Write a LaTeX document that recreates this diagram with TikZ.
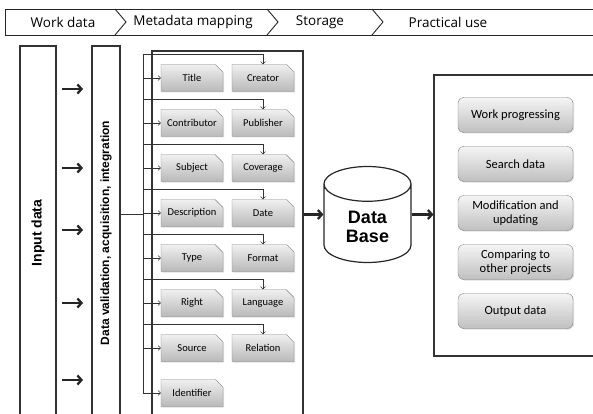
\documentclass[tikz,border=0pt]{standalone}
\usepackage{graphicx}
\usepackage{fontspec}
\setmainfont{Carlito}
\newfontfamily\headfont{Open Sans}
\newfontfamily\boldfont{Liberation Sans}
\usepackage{tikz}
\usetikzlibrary{shapes.geometric, shapes.misc, arrows.meta, positioning, shadows}

\begin{document}
\begin{tikzpicture}[x=10pt, y=-10pt,
    frame/.style={rectangle, draw=black!80, line width=1.1pt, inner sep=0pt},
    htext/.style={font=\headfont\fontsize{13.5}{15}\selectfont},
    meta/.style={chamfered rectangle, chamfered rectangle corners=north east,
                 chamfered rectangle xsep=4pt, chamfered rectangle ysep=4pt,
                 draw=black!50, top color=gray!12, bottom color=gray!55,
                 minimum width=62pt, minimum height=27pt, inner sep=0pt,
                 font=\fontsize{10.5}{12}\selectfont,
                 drop shadow={shadow xshift=1pt, shadow yshift=-1pt, opacity=0.25}},
    act/.style={rectangle, rounded corners=6pt, draw=black!50,
                top color=gray!8, bottom color=gray!50,
                minimum width=115pt, minimum height=35pt, inner sep=1pt,
                align=center, font=\fontsize{12.5}{14}\selectfont,
                drop shadow={shadow xshift=1pt, shadow yshift=-1pt, opacity=0.25}},
    dbase/.style={cylinder, shape border rotate=90, aspect=0.7, draw=black!85,
                  line width=1.2pt, fill=white, minimum width=87pt, minimum height=96pt,
                  align=center, font=\boldfont\bfseries\fontsize{18}{19}\selectfont},
    fat/.style={-{Straight Barb[length=4pt, width=9pt]}, line width=2.3pt, black!85},
    feed/.style={-{Straight Barb[length=2.5pt, width=5pt]}, thin, black!80},
    bus/.style={thin, black!80}
  ]
  \useasboundingbox (0,0) rectangle (59.3,41.4);

  % process steps along the top
  \draw[black!85, line width=0.9pt] (0.5,0.9) -- (62,0.9) (0.5,3.5) -- (62,3.5) (0.5,0.9) -- (0.5,3.5);
  \foreach \x in {11.5, 26.7, 37.2}
    \draw[black!85, line width=0.9pt] (\x,0.9) -- (\x+1.1,2.2) -- (\x,3.5);
  \node[htext] (h1) at (6.3,2.2)  {Work data};
  \node[htext] (h2) at (19.3,2.2) {Metadata mapping};
  \node[htext] (h3) at (32.0,2.2) {Storage};
  \node[htext] (h4) at (44.8,2.2) {Practical use};

  % input columns
  \node[frame, minimum width=36pt, minimum height=374pt] (input) at (3.8,23.3)
    {\rotatebox{90}{\boldfont\bfseries\fontsize{14}{16}\selectfont Input data}};
  \node[frame, minimum width=28pt, minimum height=374pt] (valid) at (10.6,23.3)
    {\rotatebox{90}{\boldfont\bfseries\fontsize{12}{14}\selectfont Data validation, acquisition, integration}};
  \foreach \y in {8.9, 16.8, 23.0, 30.3, 38.0} {
    \coordinate (from) at (6.2,\y);
    \coordinate (to) at (8.3,\y);
    \draw[fat] (from) -- (to);
  }

  % metadata elements
  \node[frame, minimum width=151pt, minimum height=369pt] (mapping) at (22.75,23.55) {};
  \coordinate (bus) at (14.3,5.4);
  \coordinate (busend) at (14.3,39.3);
  \draw[bus] (bus) -- (busend);
  \draw[bus] (valid.east |- 0,21.4) -- (bus |- 0,21.4);

  \foreach \lt/\rt [count=\i, evaluate=\i as \y using 3.3+4.5*\i] in
      {Title/Creator, Contributor/Publisher, Subject/Coverage, Description/Date,
       Type/Format, Right/Language, Source/Relation} {
    \node[meta] (l\i) at (19.2,\y) {\lt};
    \node[meta] (r\i) at (26.3,\y) {\rt};
    \draw[feed] (bus |- l\i.west) -- (l\i.west);
    \draw[feed] (bus |- 0,\y-2.4) -| (r\i.north);
  }
  \node[meta] (l8) at (19.2,39.3) {Identifier};
  \draw[feed] (busend) -- (l8.west);

  % storage
  \node[dbase, anchor=shape center] (db) at (36.75,21.45) {Data\\Base};
  \draw[fat] (mapping.east |- db.shape center) -- (db.west |- db.shape center);

  % practical use
  \node[frame, minimum width=176pt, minimum height=281pt] (use) at (52.2,21.55) {};
  \draw[fat] (db.east |- db.shape center) -- (use.west |- db.shape center);
  \foreach \t [count=\i, evaluate=\i as \y using 6.6+4.9*\i] in
      {Work progressing, Search data, {Modification and\\updating},
       {Comparing to\\other projects}, Output data}
    \node[act] (a\i) at (51.55,\y) {\t};

\end{tikzpicture}
\end{document}
